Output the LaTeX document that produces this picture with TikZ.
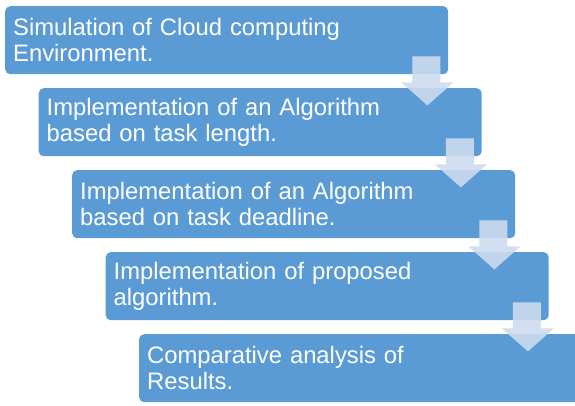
\documentclass[tikz,border=0pt]{standalone}
\usepackage{fontspec}
\setmainfont{Liberation Sans}
\usetikzlibrary{calc}
\definecolor{boxblue}{HTML}{5B9BD5}
\definecolor{arrowfill}{HTML}{CCDBEF}
\tikzset{
  stagebox/.style={fill=boxblue, draw=none, rounded corners=5pt, anchor=north west,
    minimum width=443pt, minimum height=68pt, inner xsep=8pt, inner ysep=0pt,
    text width=427pt, align=left, text=white,
    font=\fontsize{23.8}{26}\selectfont},
  flowarrow/.style={fill=arrowfill, fill opacity=0.9, draw=none}
}
\newcommand{\downarrowshape}[1]{%
  \fill[flowarrow] ($(#1.south east)+(-36,-18)$) -- ($(#1.south east)+(-8,-18)$)
    -- ($(#1.south east)+(-8,8)$) -- ($(#1.south east)+(5,8)$)
    -- ($(#1.south east)+(-21,31)$) -- ($(#1.south east)+(-47,8)$)
    -- ($(#1.south east)+(-36,8)$) -- cycle;}
\begin{document}
\begin{tikzpicture}[x=1pt,y=-1pt]
\useasboundingbox (0,0) rectangle (575,405);
\begin{scope}
\clip (0,0) rectangle (575,405);
\node[stagebox] (b1) at (5,6) {Simulation of Cloud computing\\Environment.};
\node[stagebox] (b2) at (38.5,88) {Implementation of an Algorithm\\based on task length.};
\node[stagebox] (b3) at (72,170) {Implementation of an Algorithm\\based on task deadline.};
\node[stagebox] (b4) at (105.5,252) {Implementation of proposed\\algorithm.};
\node[stagebox] (b5) at (139,334) {Comparative analysis of\\Results.};
\downarrowshape{b1}
\downarrowshape{b2}
\downarrowshape{b3}
\downarrowshape{b4}
\end{scope}
\end{tikzpicture}
\end{document}
